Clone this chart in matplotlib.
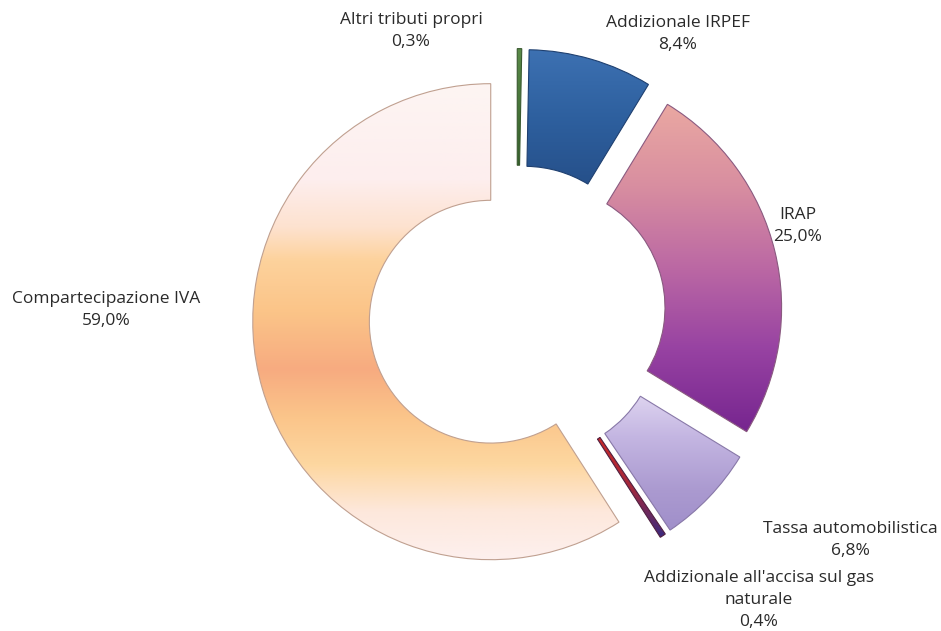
import numpy as np
import matplotlib.pyplot as plt
from matplotlib.colors import LinearSegmentedColormap

# ======================
# Data
# ======================
labels = ["Altri tributi propri", "Addizionale IRPEF", "IRAP",
          "Tassa automobilistica", "Addizionale all'accisa sul gas\nnaturale",
          "Compartecipazione IVA"]
values = [0.3, 8.4, 25.0, 6.8, 0.4, 59.0]
pct_text = ["0,3%", "8,4%", "25,0%", "6,8%", "0,4%", "59,0%"]

# ======================
# Style
# ======================
W, H = 941, 631
CX, CY, R = 517, 314, 238      # pie centre / outer radius in px
WIDTH = 0.49                   # ring width (fraction of radius)
EXPLODE = 0.115

# vertical gradients, top -> bottom (position, colour)
gradients = [
    [(0, "#5a8a48"), (1, "#34602a")],
    [(0, "#3d71b2"), (0.5, "#2e609f"), (1, "#26508a")],
    [(0, "#eaa8a2"), (0.25, "#d88ea0"), (0.5, "#bb68a4"), (0.75, "#9742a2"), (1, "#76258f")],
    [(0, "#ddd3ef"), (0.3, "#c4b6e2"), (0.7, "#ab9ad0"), (1, "#a08fca")],
    [(0, "#cc2a28"), (0.5, "#a3283c"), (1, "#3b2a7f")],
    [(0, "#fdf5f3"), (0.2, "#fdeeee"), (0.3, "#fde2cf"), (0.37, "#fdd29c"),
     (0.48, "#fbc488"), (0.6, "#f7ab80"), (0.7, "#fbc58a"), (0.8, "#fdd7a0"),
     (0.9, "#fde8dc"), (1, "#fdf0ee")],
]
edge_colors = ["#3a5a30", "#1f4070", "#8a5a80", "#8878a8", "#502040", "#c0a090"]

label_pos = [(411, 31), (678, 34), (798, 226), (850, 540),
             (759, 600), (106, 310)]

fig = plt.figure(figsize=(W / 100, H / 100), dpi=100)
ax = fig.add_axes([0, 0, 1, 1])

wedges, _ = ax.pie(values, startangle=90, counterclock=False, radius=1,
                   explode=[EXPLODE] * len(values),
                   wedgeprops=dict(width=WIDTH, linewidth=0.8))

for w, grad, ec in zip(wedges, gradients, edge_colors):
    w.set_facecolor("none")
    w.set_edgecolor(ec)
    w.set_zorder(3)
    ext = w.get_path().get_extents()
    cmap = LinearSegmentedColormap.from_list("g", grad)
    img = np.linspace(0, 1, 256).reshape(-1, 1)
    im = ax.imshow(img, cmap=cmap, aspect="auto", origin="upper",
                   extent=(ext.x0, ext.x1, ext.y0, ext.y1), zorder=2,
                   interpolation="bilinear")
    im.set_clip_path(w)

ax.set_xlim(-CX / R, (W - CX) / R)
ax.set_ylim(-(H - CY) / R, CY / R)
ax.set_aspect("auto")
ax.axis("off")

for lab, pct, (px, py) in zip(labels, pct_text, label_pos):
    fig.text(px / W, 1 - py / H, lab + "\n" + pct, ha="center", va="center",
             fontsize=12.5, family="Open Sans", color="#2a2a2a",
             linespacing=1.5)

fig.savefig("out.png", dpi=100)
